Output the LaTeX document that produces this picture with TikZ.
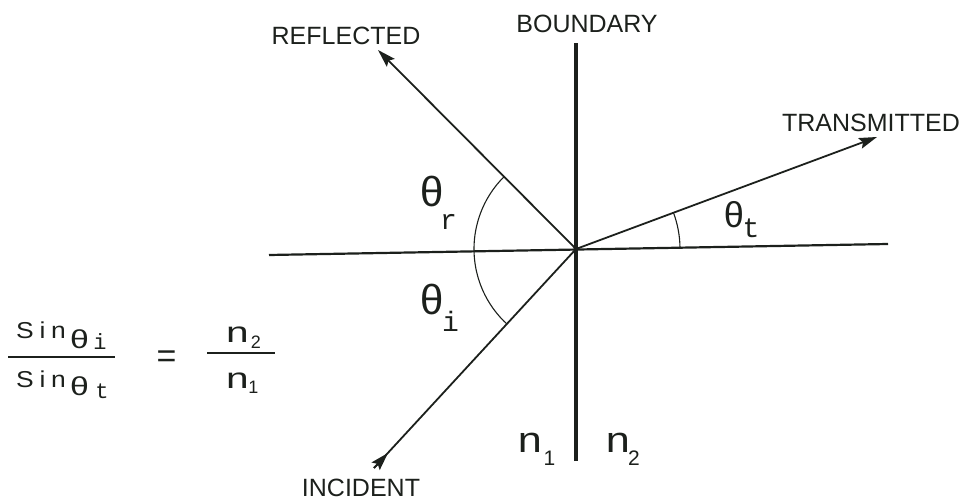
\documentclass[tikz,border=0pt]{standalone}
\usepackage{fontspec}
\usepackage{graphicx}
\setmainfont{Liberation Sans}
\newfontfamily\labfont{Liberation Sans}
\newfontfamily\monofont{Liberation Mono}
\usetikzlibrary{arrows.meta}
\definecolor{ink}{RGB}{28,32,28}
\newcommand{\wideS}[1]{\scalebox{1.15}[1]{#1}}
\newcommand{\wideN}[1]{\scalebox{1.4}[1]{#1}}
\newcommand{\wideB}[1]{\scalebox{1.2}[1]{#1}}
\newcommand{\wideT}[1]{\scalebox{1.3}[1]{#1}}
\begin{document}
\begin{tikzpicture}[x=1pt,y=1pt,
  ray/.style={draw=ink, line width=1.8pt},
  axis/.style={draw=ink, line width=2.2pt},
  bline/.style={draw=ink, line width=4.5pt},
  arcline/.style={draw=ink, line width=1.1pt},
  fracline/.style={draw=ink, line width=1.8pt},
  tipend/.style={-{Stealth[length=18pt,width=11pt,inset=3pt]}},
  lab/.style={inner sep=0pt, anchor=base, text=ink, font=\labfont\fontsize{25}{30}\selectfont},
  th/.style={inner sep=0pt, anchor=base, text=ink, font=\monofont\fontsize{42}{44}\selectfont},
  tht/.style={inner sep=0pt, anchor=base, text=ink, font=\monofont\fontsize{36}{40}\selectfont},
  thsub/.style={inner sep=0pt, anchor=base, text=ink, font=\monofont\fontsize{28}{30}\selectfont},
  bign/.style={inner sep=0pt, anchor=base, text=ink, font=\labfont\fontsize{36}{40}\selectfont},
  bigsub/.style={inner sep=0pt, anchor=base, text=ink, font=\labfont\fontsize{21}{24}\selectfont},
  sinlab/.style={inner sep=0pt, anchor=base west, text=ink, font=\labfont\fontsize{23}{28}\selectfont},
  fth/.style={inner sep=0pt, anchor=base, text=ink, font=\monofont\fontsize{26}{30}\selectfont},
  fsub/.style={inner sep=0pt, anchor=base, text=ink, font=\monofont\fontsize{22}{24}\selectfont},
  fn/.style={inner sep=0pt, anchor=base, text=ink, font=\labfont\fontsize{29}{32}\selectfont},
  fnsub/.style={inner sep=0pt, anchor=base, text=ink, font=\labfont\fontsize{18}{20}\selectfont},
  eqlab/.style={inner sep=0pt, anchor=base, text=ink, font=\labfont\fontsize{34}{36}\selectfont}
]
\useasboundingbox (0,0) rectangle (966,501);
% key points
\coordinate (O) at (576,252);
\coordinate (R) at (378,451);
\coordinate (T) at (877,364);
\coordinate (I) at (374,33);
\coordinate (Ia) at (388,48);
\coordinate (HL) at (269,246);
\coordinate (HR) at (888,257);
\coordinate (Bt) at (576,458);
\coordinate (Bb) at (576,40);
% normal line and boundary
\draw[axis] (HL) -- (HR);
\draw[bline] (Bb) -- (Bt);
% rays
\draw[ray, tipend] (O) -- (R);
\draw[ray, tipend] (O) -- (T);
\draw[ray] (I) -- (O);
\draw[ray, tipend] (I) -- (Ia);
% angle arcs
\draw[arcline] (O) ++(135:102) arc[start angle=135, end angle=227.3, radius=102];
\draw[arcline] (O) ++(1:104) arc[start angle=1, end angle=20.4, radius=104];
% labels
\node[lab] (refl) at (346,456) {REFLECTED};
\node[lab] (bnd) at (587,468) {BOUNDARY};
\node[lab] (trans) at (871,369) {TRANSMITTED};
\node[lab] (inc) at (361,5) {INCIDENT};
% angle labels
\node[th] (thr) at (432.5,294) {θ};
\node[thsub] (thrs) at (448.5,271) {r};
\node[th] (thi) at (432.5,186) {θ};
\node[thsub] (this) at (450.5,169) {i};
\node[tht] (tht) at (734,273) {θ};
\node[thsub] (thts) at (751,263) {t};
% media
\node[bign] (n1) at (530,49) {\wideB{n}};
\node[bigsub] (n1s) at (549.5,36) {1};
\node[bign] (n2) at (618,49) {\wideB{n}};
\node[bigsub] (n2s) at (634,36) {2};
% Snell's law
\node[sinlab] (s1) at (16,163) {\wideS{S\kern5pt i\kern5pt n}};
\node[fth] (ft1) at (79.5,153) {\wideT{θ}};
\node[fsub] (fs1) at (100,151) {i};
\draw[fracline] (8,144) -- (115,144);
\node[sinlab] (s2) at (16,114) {\wideS{S\kern5pt i\kern5pt n}};
\node[fth] (ft2) at (79.5,106) {\wideT{θ}};
\node[fsub] (fs2) at (102,103) {t};
\node[eqlab] (eq) at (166.5,134) {=};
\draw[fracline] (207,148) -- (275,148);
\node[fn] (fn2) at (237.5,158) {\wideN{n}};
\node[fnsub] (fn2s) at (256,153) {2};
\node[fn] (fn1) at (237.5,113) {\wideN{n}};
\node[fnsub] (fn1s) at (253.5,108) {1};
\end{tikzpicture}
\end{document}
